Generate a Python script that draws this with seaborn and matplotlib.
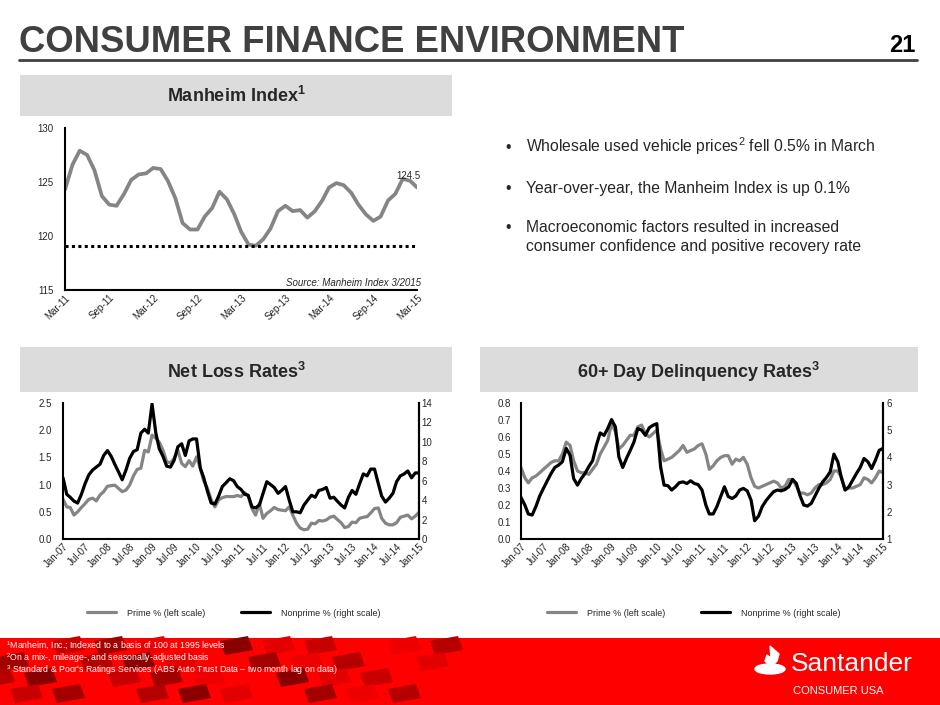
import numpy as np
import pandas as pd
import matplotlib
matplotlib.use("Agg")
import matplotlib.pyplot as plt
import matplotlib.dates as mdates
import seaborn as sns
from matplotlib.patches import Rectangle, Polygon, Ellipse
from matplotlib.lines import Line2D
from matplotlib.ticker import FormatStrFormatter

# ---- data ----
manheim_start, manheim_end = "2011-03-01", "2015-03-01"
manheim = [124.3, 126.6, 127.9, 127.5, 126.1, 123.7, 122.9, 122.8, 123.9, 125.2,
           125.7, 125.8, 126.3, 126.2, 125.1, 123.5, 121.2, 120.6, 120.6, 121.8,
           122.6, 124.1, 123.4, 122.0, 120.4, 119.2, 119.1, 119.7, 120.7, 122.3,
           122.8, 122.3, 122.4, 121.7, 122.3, 123.3, 124.5, 124.9, 124.7, 124.0,
           122.9, 122.0, 121.4, 121.8, 123.3, 123.9, 125.3, 125.1, 124.5]
manheim_floor = 119.1
manheim_last_label = "124.5"

rates_start, rates_end = "2007-01-01", "2015-01-01"
netloss_prime = [0.73, 0.59, 0.58, 0.44, 0.50, 0.58, 0.65, 0.73, 0.75, 0.70,
                 0.81, 0.87, 0.97, 0.98, 0.99, 0.93, 0.87, 0.90, 0.99, 1.16,
                 1.28, 1.30, 1.63, 1.60, 1.91, 1.85, 1.78, 1.63, 1.42, 1.40,
                 1.48, 1.63, 1.39, 1.33, 1.44, 1.34, 1.51, 1.30, 1.07, 0.93,
                 0.72, 0.59, 0.72, 0.76, 0.78, 0.78, 0.78, 0.80, 0.78, 0.85,
                 0.79, 0.56, 0.44, 0.65, 0.38, 0.47, 0.52, 0.58, 0.54, 0.53,
                 0.52, 0.59, 0.44, 0.29, 0.20, 0.17, 0.18, 0.29, 0.28, 0.34,
                 0.33, 0.35, 0.40, 0.42, 0.36, 0.30, 0.21, 0.23, 0.31, 0.30,
                 0.38, 0.40, 0.41, 0.48, 0.56, 0.57, 0.38, 0.29, 0.26, 0.26,
                 0.30, 0.40, 0.42, 0.44, 0.37, 0.42, 0.49]
netloss_nonprime = [6.3, 4.6, 4.3, 3.9, 3.7, 4.6, 5.7, 6.6, 7.1, 7.4,
                    7.7, 8.6, 9.1, 8.5, 7.7, 6.9, 6.1, 7.1, 8.3, 9.0,
                    9.2, 10.9, 11.3, 10.9, 13.9, 10.9, 9.3, 8.5, 7.5, 7.4,
                    8.1, 9.5, 9.8, 8.6, 10.1, 10.3, 10.3, 7.3, 6.3, 4.9,
                    3.7, 3.6, 4.4, 5.4, 5.8, 6.2, 6.0, 5.4, 5.1, 4.6,
                    4.5, 3.3, 3.2, 3.5, 4.7, 5.9, 5.6, 5.3, 4.7, 5.0,
                    5.4, 4.0, 2.8, 2.8, 2.7, 3.5, 4.0, 4.5, 4.3, 5.0,
                    5.1, 5.3, 4.2, 4.3, 3.9, 3.5, 3.2, 4.3, 5.0, 4.6,
                    5.7, 6.7, 6.5, 7.2, 7.2, 5.7, 4.4, 3.8, 4.2, 4.7,
                    5.9, 6.5, 6.7, 7.0, 6.3, 6.8, 6.8]
delinq_prime = [0.42, 0.36, 0.33, 0.36, 0.37, 0.39, 0.41, 0.43, 0.45, 0.46,
                0.46, 0.50, 0.57, 0.55, 0.46, 0.40, 0.39, 0.39, 0.38, 0.41,
                0.44, 0.50, 0.54, 0.58, 0.68, 0.63, 0.53, 0.55, 0.58, 0.61,
                0.61, 0.66, 0.67, 0.62, 0.60, 0.62, 0.64, 0.53, 0.46, 0.47,
                0.48, 0.50, 0.52, 0.55, 0.51, 0.52, 0.53, 0.55, 0.56, 0.50,
                0.41, 0.43, 0.46, 0.48, 0.49, 0.49, 0.44, 0.47, 0.46, 0.48,
                0.44, 0.36, 0.31, 0.30, 0.31, 0.32, 0.33, 0.34, 0.33, 0.30,
                0.31, 0.35, 0.35, 0.31, 0.27, 0.27, 0.26, 0.27, 0.30, 0.32,
                0.32, 0.33, 0.35, 0.40, 0.40, 0.36, 0.29, 0.30, 0.30, 0.31,
                0.32, 0.36, 0.35, 0.33, 0.36, 0.40, 0.39]
delinq_nonprime = [2.53, 2.25, 1.92, 1.88, 2.19, 2.58, 2.86, 3.14, 3.41, 3.63,
                   3.72, 3.84, 4.33, 4.08, 3.22, 2.98, 3.22, 3.41, 3.66, 3.88,
                   4.45, 4.90, 4.81, 5.06, 5.39, 5.12, 4.02, 3.63, 3.96, 4.26,
                   4.57, 5.06, 5.00, 4.81, 5.09, 5.18, 5.24, 3.65, 2.98, 2.96,
                   2.80, 2.92, 3.07, 3.10, 3.04, 3.14, 3.04, 3.00, 2.80, 2.25,
                   1.92, 1.92, 2.19, 2.56, 2.92, 2.56, 2.49, 2.58, 2.80, 2.86,
                   2.77, 2.43, 1.67, 1.84, 2.19, 2.41, 2.58, 2.74, 2.80, 2.77,
                   2.82, 2.92, 3.19, 3.04, 2.61, 2.25, 2.21, 2.31, 2.58, 2.86,
                   3.10, 3.26, 3.47, 4.12, 3.84, 3.22, 2.80, 2.92, 3.16, 3.41,
                   3.63, 3.96, 3.84, 3.59, 3.90, 4.26, 4.33]

# bullet lines (a list per bullet, one string per printed line)
bullets = [
    [r"Wholesale used vehicle prices$^2$ fell 0.5% in March"],
    ["Year-over-year, the Manheim Index is up 0.1%"],
    ["Macroeconomic factors resulted in increased",
     "consumer confidence and positive recovery rate"],
]
footnotes = [
    r"$^1$Manheim, Inc.; Indexed to a basis of 100 at 1995 levels",
    r"$^2$On a mix-, mileage-, and seasonally-adjusted basis",
    r"$^3$ Standard & Poor's Ratings Services (ABS Auto Trust Data – two month lag on data)",
]
prime_label = "Prime % (left scale)"
nonprime_label = "Nonprime % (right scale)"

GREY_LINE = "#858585"
BOX_GREY = "#dcdcdc"
TITLE_GREY = "#404040"
RED = "#fe0000"

sns.set_style("white")
plt.rcParams["font.family"] = ["Liberation Sans", "DejaVu Sans"]
plt.rcParams["mathtext.fontset"] = "custom"
plt.rcParams["mathtext.rm"] = "Liberation Sans"
plt.rcParams["mathtext.it"] = "Liberation Sans:italic"
plt.rcParams["mathtext.bf"] = "Liberation Sans:bold"

W, H = 940, 705


def fx(x):
    return x / W


def fy(y):
    return 1 - y / H


def box(l, t, r, b):
    return [l / W, 1 - b / H, (r - l) / W, (b - t) / H]


def style_axis(ax, right=False):
    ax.spines["top"].set_visible(False)
    ax.spines["right"].set_visible(right)
    for s in ["left", "bottom", "right"]:
        ax.spines[s].set_color("black")
        ax.spines[s].set_linewidth(1.5)
    ax.set_xlabel("")
    ax.set_ylabel("")


def date_ticks(ax, start, end):
    ticks = pd.date_range(start, end, freq="6MS")
    ax.set_xticks(ticks)
    ax.xaxis.set_major_formatter(mdates.DateFormatter("%b-%y"))
    ax.set_xlim(pd.Timestamp(start), pd.Timestamp(end))
    ax.tick_params(axis="x", length=0, labelsize=7, pad=2)
    for lab in ax.get_xticklabels():
        lab.set_rotation(45)
        lab.set_ha("right")
        lab.set_rotation_mode("anchor")


fig = plt.figure(figsize=(9.4, 7.05), dpi=100)

# ---- slide header ----
fig.text(fx(19), fy(52), "CONSUMER FINANCE ENVIRONMENT", fontsize=26.3,
         weight="bold", color=TITLE_GREY, va="baseline")
fig.text(fx(915), fy(52), "21", fontsize=17, weight="bold", color="black",
         ha="right", va="baseline")
fig.add_artist(Line2D([fx(19), fx(917)], [fy(60), fy(60)], lw=2,
                      color=TITLE_GREY))

# panel header boxes
for (l, t, r, b), txt in [((20, 75, 452, 116), r"Manheim Index$^\mathbf{1}$"),
                          ((20, 347, 452, 392), r"Net Loss Rates$^\mathbf{3}$"),
                          ((480, 347, 918, 392), r"60+ Day Delinquency Rates$^\mathbf{3}$")]:
    fig.add_artist(Rectangle((fx(l), fy(b)), (r - l) / W, (b - t) / H,
                             transform=fig.transFigure, color=BOX_GREY, lw=0))
    fig.text(fx((l + r) / 2), fy(b - 14), txt, fontsize=13, weight="bold",
             ha="center", va="baseline")

# ---- Manheim index ----
m_dates = pd.date_range(manheim_start, manheim_end, freq="MS")
m_df = pd.DataFrame({"date": m_dates, "index": manheim})
ax_m = fig.add_axes(box(65, 128, 417, 290))
sns.lineplot(data=m_df, x="date", y="index", ax=ax_m, color=GREY_LINE, lw=2.7)
ax_m.axhline(manheim_floor, color="black", lw=2.2, ls=(0, (1, 1.1)))
ax_m.set_ylim(115, 130)
ax_m.set_yticks([115, 120, 125, 130])
ax_m.tick_params(axis="y", length=0, labelsize=7, pad=8)
date_ticks(ax_m, manheim_start, manheim_end)
style_axis(ax_m)
ax_m.annotate(manheim_last_label, xy=(m_dates[-1], manheim[-1]),
              xytext=(-15, 6), textcoords="offset points", fontsize=7)
ax_m.text(1.01, 0.01, "Source: Manheim Index 3/2015", transform=ax_m.transAxes,
          ha="right", va="bottom", fontsize=7, style="italic")

# bullets
bullet_y = [152, 193, 232]
for y, lines in zip(bullet_y, bullets):
    fig.text(fx(505), fy(y), "•", fontsize=11.3, va="baseline")
    for k, line in enumerate(lines):
        fig.text(fx(526), fy(y + k * 19), line, fontsize=11.3, va="baseline")

# ---- rate charts ----
r_dates = pd.date_range(rates_start, rates_end, freq="MS")


def rate_chart(rect, prime, nonprime, lylim, lyticks, ryticks, lfmt,
               leg_x, lpad, rpad):
    df = pd.DataFrame({"date": r_dates, "prime": prime, "nonprime": nonprime})
    ax = fig.add_axes(box(*rect))
    ax2 = ax.twinx()
    sns.lineplot(data=df, x="date", y="prime", ax=ax, color=GREY_LINE, lw=2.3,
                 label=prime_label, legend=False)
    sns.lineplot(data=df, x="date", y="nonprime", ax=ax2, color="black",
                 lw=2.3, label=nonprime_label, legend=False)
    ax.set_ylim(*lylim)
    ax.set_yticks(lyticks)
    ax.yaxis.set_major_formatter(FormatStrFormatter(lfmt))
    ax2.set_ylim(ryticks[0], ryticks[-1])
    ax2.set_yticks(ryticks)
    ax.tick_params(axis="y", length=0, labelsize=7, pad=lpad)
    ax2.tick_params(axis="y", length=0, labelsize=7, pad=rpad)
    date_ticks(ax, rates_start, rates_end)
    style_axis(ax, right=True)
    style_axis(ax2, right=True)
    ax2.spines["left"].set_visible(False)
    ax2.spines["bottom"].set_visible(False)
    handles = ax.get_lines()[:1] + ax2.get_lines()[:1]
    ax.legend(handles, [prime_label, nonprime_label], loc="center",
              bbox_to_anchor=(fx(leg_x), fy(613)), bbox_transform=fig.transFigure,
              ncol=2, frameon=False, fontsize=6.5, handlelength=3.2,
              handletextpad=1.2, columnspacing=4)
    return ax, ax2


rate_chart((63, 403, 419, 539), netloss_prime, netloss_nonprime, (0, 2.5),
           np.arange(0, 2.51, 0.5), np.arange(0, 14.1, 2), "%.1f", 234, 8, 2)
rate_chart((521, 403, 883, 539), delinq_prime, delinq_nonprime, (0, 0.8),
           np.arange(0, 0.81, 0.1), np.arange(1, 6.1, 1), "%.1f", 694, 7, 2.5)

# ---- red footer with tile decoration ----
fig.add_artist(Rectangle((0, 0), 1, 67 / H, transform=fig.transFigure,
                         color=RED, lw=0, zorder=0))
shades = ["#e20000", "#c80000", "#a30000", "#ee0000", "#b60000", "#8a0000"]
for r in range(4):
    for c in range(11):
        if (r * 5 + c * 3) % 4 == 0:
            continue
        x0 = c * 42 - r * 14 + 10
        y0 = 641 + r * 16
        pts = [(x0, y0), (x0 + 28, y0 - 5), (x0 + 33, y0 + 9), (x0 + 5, y0 + 14)]
        fig.add_artist(Polygon([(fx(px), fy(min(py, H))) for px, py in pts],
                               closed=True, transform=fig.transFigure,
                               color=shades[(r * 2 + c) % len(shades)],
                               lw=0, zorder=0.5))
for i, txt in enumerate(footnotes):
    fig.text(fx(6), fy(649 + i * 12), txt, fontsize=6.3, color="white",
             va="baseline", zorder=3)

# Santander logo
fig.add_artist(Ellipse((fx(770), fy(669)), 30 / W, 10 / H,
                       transform=fig.transFigure, color="white", zorder=3))
flame = [(770, 646), (779, 654), (777, 661), (771, 667), (765, 661), (767, 655),
         (771, 658)]
fig.add_artist(Polygon([(fx(px), fy(py)) for px, py in flame], closed=True,
                       transform=fig.transFigure, color="white", zorder=3))
fig.text(fx(791), fy(671), "Santander", fontsize=19, color="white",
         va="baseline", zorder=3)
fig.text(fx(838), fy(694), "CONSUMER USA", fontsize=8, color="white",
         ha="center", va="baseline", zorder=3)

fig.savefig("out.png", dpi=100, facecolor="white")
